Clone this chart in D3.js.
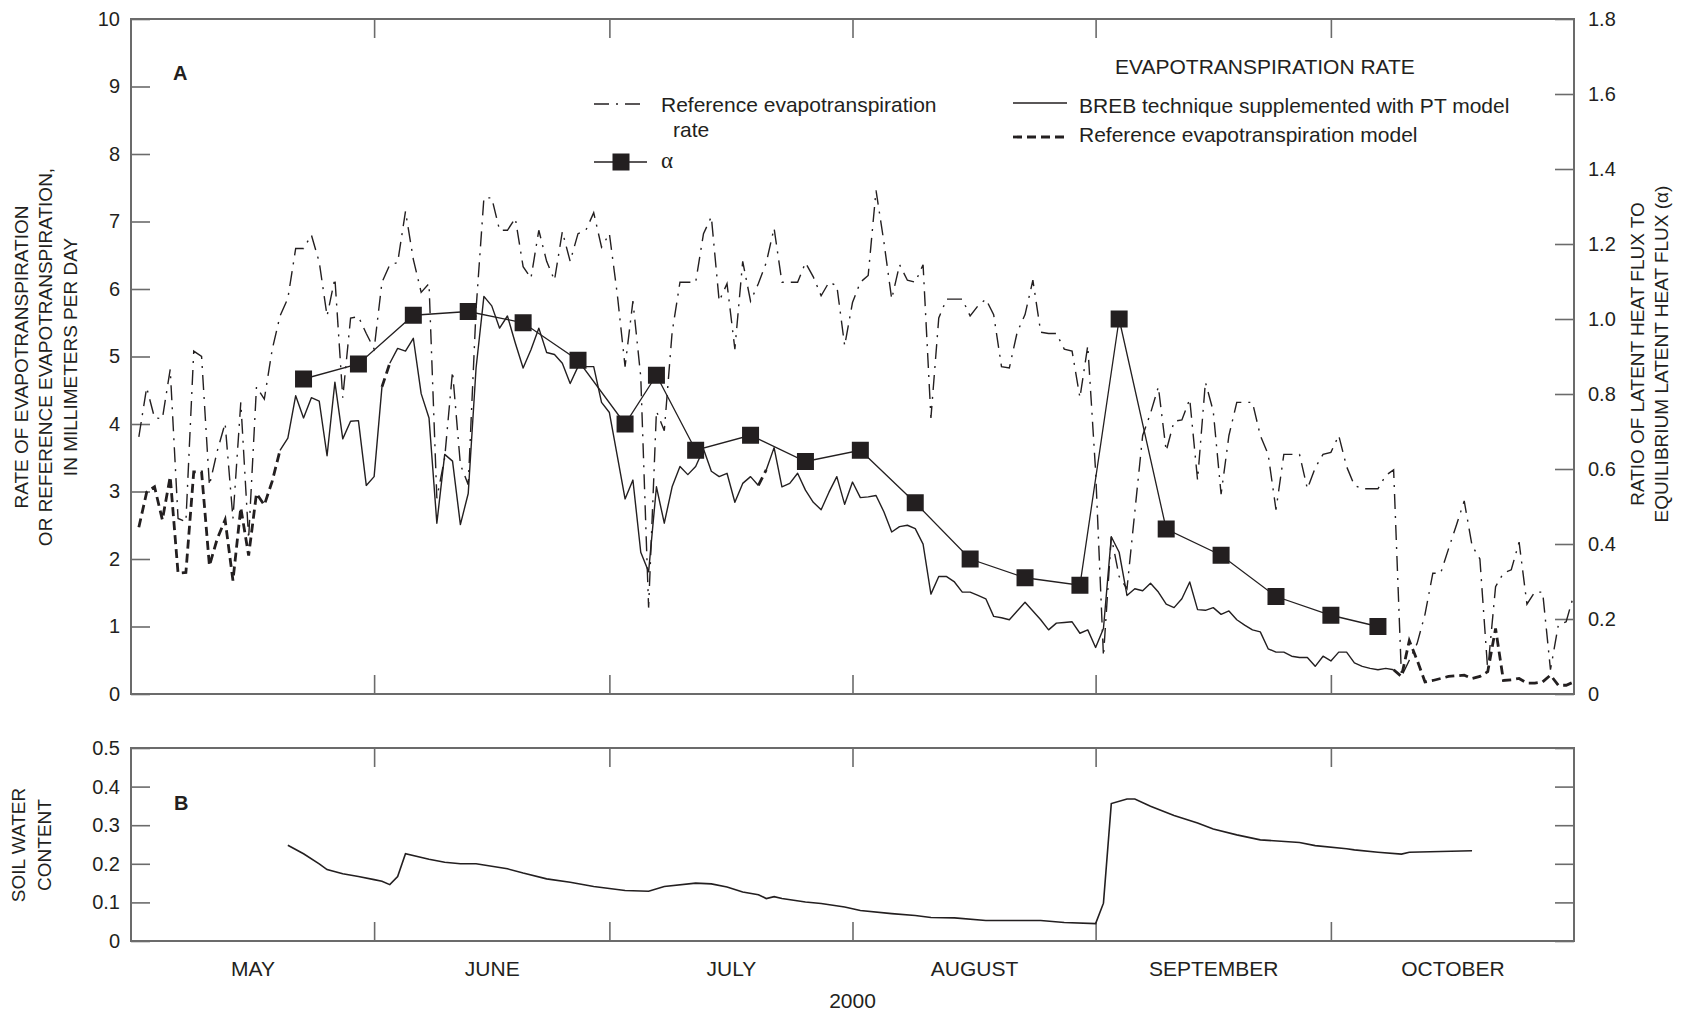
<!DOCTYPE html>
<html>
<head>
<meta charset="utf-8">
<script src="https://cdn.jsdelivr.net/npm/d3@7"></script>
<style>
  body { margin: 0; background: #fff; }
  svg { display: block; }
  text { font-family: "Liberation Sans", Arial, Helvetica, sans-serif; fill: #231f20; }
</style>
</head>
<body>
<svg id="chart" width="1681" height="1014"></svg>
<script>
// day 0 = May 1, 2000; daily values start on day 1
const monthStarts = [0, 31, 61, 92, 123, 153, 184]
const monthNames = ["MAY", "JUNE", "JULY", "AUGUST", "SEPTEMBER", "OCTOBER"]

const etTicks = [0, 1, 2, 3, 4, 5, 6, 7, 8, 9, 10]
const alphaTicks = [0, 0.2, 0.4, 0.6, 0.8, 1.0, 1.2, 1.4, 1.6, 1.8]
const soilTicks = [0, 0.1, 0.2, 0.3, 0.4, 0.5]

// reference evapotranspiration rate, mm/day (dash-dot)
const refEtRate = [
  3.81, 4.54, 4.09, 4.08, 4.81, 2.6, 2.55, 5.08, 5.0, 3.09,
  3.6, 4.01, 2.6, 4.32, 2.3, 4.55, 4.37, 5.1, 5.6, 5.86,
  6.6, 6.6, 6.8, 6.4, 5.6, 6.16, 4.39, 5.57, 5.59, 5.34,
  5.11, 6.1, 6.36, 6.39, 7.15, 6.44, 5.95, 6.08, 2.9, 3.5,
  4.78, 3.4, 3.1, 5.7, 7.35, 7.35, 6.87, 6.87, 7.05, 6.33,
  6.16, 6.87, 6.41, 6.13, 6.85, 6.41, 6.82, 6.87, 7.13, 6.62,
  6.82, 5.93, 4.85, 5.82, 4.7, 1.28, 4.19, 3.9, 5.36, 6.1,
  6.1, 6.1, 6.82, 7.07, 5.82, 6.08, 5.11, 6.41, 5.82, 6.08,
  6.39, 6.9, 6.1, 6.1, 6.1, 6.39, 6.18, 5.9, 6.1, 6.05,
  5.16, 5.8, 6.1, 6.2, 7.46, 6.7, 5.85, 6.36, 6.13, 6.1,
  6.36, 4.09, 5.57, 5.85, 5.85, 5.85, 5.6, 5.75, 5.85, 5.62,
  4.85, 4.83, 5.36, 5.62, 6.13, 5.36, 5.34, 5.34, 5.11, 5.08,
  4.39, 5.16, 3.3, 0.56, 2.33, 1.74, 1.56, 2.7, 3.83, 4.16,
  4.55, 3.6, 4.04, 4.06, 4.37, 3.17, 4.62, 4.19, 2.96, 3.83,
  4.32, 4.32, 4.32, 3.83, 3.55, 2.73, 3.55, 3.55, 3.55, 3.04,
  3.35, 3.55, 3.58, 3.83, 3.37, 3.09, 3.04, 3.04, 3.04, 3.24,
  3.32, 0.26, 0.5, 0.75, 1.18, 1.79, 1.79, 2.15, 2.5, 2.86,
  2.2, 2.0, 0.35, 1.59, 1.79, 1.84, 2.25, 1.33, 1.51, 1.51,
  0.36, 1.02, 1.07, 1.48
]

// evapotranspiration rate, mm/day (BREB + PT, or model where in modelSpans)
const etRate = [
  2.47, 2.99, 3.07, 2.58, 3.22, 1.79, 1.8, 3.29, 3.29, 1.9,
  2.3, 2.58, 1.68, 2.76, 2.05, 2.97, 2.8, 3.15, 3.61, 3.79,
  4.42, 4.09, 4.39, 4.34, 3.53, 4.62, 3.78, 4.04, 4.05, 3.09,
  3.22, 4.55, 4.9, 5.12, 5.08, 5.27, 4.45, 4.09, 2.53, 3.55,
  3.45, 2.51, 2.97, 4.83, 5.89, 5.75, 5.42, 5.6, 5.2, 4.83,
  5.1, 5.42, 5.06, 5.03, 4.9, 4.6, 4.85, 4.85, 4.85, 4.32,
  4.17, 3.53, 2.89, 3.17, 2.1, 1.81, 3.07, 2.53, 3.07, 3.37,
  3.25, 3.37, 3.63, 3.3, 3.22, 3.27, 2.84, 3.12, 3.22, 3.09,
  3.32, 3.65, 3.07, 3.12, 3.27, 3.02, 2.84, 2.73, 2.99, 3.22,
  2.81, 3.14, 2.91, 2.92, 2.94, 2.7, 2.4, 2.48, 2.5, 2.45,
  2.22, 1.48, 1.74, 1.74, 1.66, 1.51, 1.51, 1.46, 1.41, 1.15,
  1.13, 1.1, 1.23, 1.36, 1.23, 1.1, 0.95, 1.05, 1.06, 1.07,
  0.9, 0.95, 0.69, 0.97, 2.33, 2.1, 1.46, 1.56, 1.53, 1.64,
  1.51, 1.33, 1.28, 1.41, 1.66, 1.25, 1.24, 1.28, 1.18, 1.23,
  1.1, 1.02, 0.95, 0.92, 0.67, 0.62, 0.62, 0.56, 0.54, 0.54,
  0.41, 0.56, 0.49, 0.62, 0.62, 0.46, 0.41, 0.38, 0.36, 0.38,
  0.36, 0.26, 0.79, 0.5, 0.18, 0.2, 0.23, 0.26, 0.27, 0.28,
  0.23, 0.26, 0.33, 0.97, 0.2, 0.21, 0.23, 0.16, 0.16, 0.18,
  0.28, 0.13, 0.13, 0.18
]
const modelSpans = [[1, 19], [32, 33], [80, 81], [161, 184]]

const alphaDays = [22, 29, 36, 43, 50, 57, 63, 67, 72, 79, 86, 93, 100, 107, 114, 121, 126, 132, 139, 146, 153, 159]
const alphaValues = [0.84, 0.88, 1.01, 1.02, 0.99, 0.89, 0.72, 0.85, 0.65, 0.69, 0.62, 0.65, 0.51, 0.36, 0.31, 0.29, 1.0, 0.44, 0.37, 0.26, 0.21, 0.18]

const soilDays = [20, 22, 24, 25, 27, 29, 31, 32, 33, 34, 35, 38, 40, 42, 44, 48, 50, 53, 56, 59,
  63, 66, 68, 72, 74, 76, 78, 80, 81, 82, 83, 86, 88, 91, 93, 97, 100, 102, 105, 109,
  116, 119, 123, 124, 125, 127, 128, 130, 133, 136, 138, 141, 144, 149, 151, 155, 156, 159, 162, 163,
  167, 171]
const soilValues = [0.248, 0.226, 0.2, 0.185, 0.174, 0.167, 0.159, 0.155, 0.146, 0.167, 0.226, 0.212, 0.204, 0.2, 0.2, 0.187, 0.176, 0.161, 0.152, 0.141,
  0.131, 0.129, 0.141, 0.15, 0.148, 0.14, 0.127, 0.12, 0.11, 0.115, 0.11, 0.101, 0.097, 0.088, 0.079, 0.071, 0.066, 0.061, 0.06, 0.053,
  0.053, 0.048, 0.045, 0.098, 0.356, 0.368, 0.368, 0.349, 0.325, 0.306, 0.29, 0.275, 0.262, 0.255, 0.247, 0.239, 0.236, 0.23, 0.225, 0.23,
  0.232, 0.234]

const ink = "#231f20"
const frameColor = "#6b6b6b"

const svg = d3.select("#chart")
const left = 131, right = 1574
const topA = 19, bottomA = 694
const topB = 748, bottomB = 941
const tickLen = 19

const x = d3.scaleLinear().domain([0, 184]).range([left, right])
const yEt = d3.scaleLinear().domain([0, 10]).range([bottomA, topA])
const yAlpha = d3.scaleLinear().domain([0, 1.8]).range([bottomA, topA])
const ySoil = d3.scaleLinear().domain([0, 0.5]).range([bottomB, topB])

function styleAxis (g, size) {
    g.attr("font-size", size).attr("color", ink)
    g.select(".domain").remove()
    g.selectAll(".tick line").attr("stroke", frameColor).attr("stroke-width", 1.6)
}

// ---- panel frames and ticks
const monthInner = monthStarts.slice(1, -1)
;[[topA, bottomA], [topB, bottomB]].forEach(([t, b]) => {
    svg.append("g").attr("transform", `translate(0,${t})`)
        .call(d3.axisTop(x).tickValues(monthInner).tickSize(-tickLen).tickFormat(""))
        .call(g => styleAxis(g, 20))
    svg.append("g").attr("transform", `translate(0,${b})`)
        .call(d3.axisBottom(x).tickValues(monthInner).tickSize(-tickLen).tickFormat(""))
        .call(g => styleAxis(g, 20))
})

svg.append("g").attr("transform", `translate(${left},0)`)
    .call(d3.axisLeft(yEt).tickValues(etTicks).tickSize(-tickLen).tickPadding(11).tickFormat(d3.format("d")))
    .call(g => styleAxis(g, 20))

svg.append("g").attr("transform", `translate(${right},0)`)
    .call(d3.axisRight(yAlpha).tickValues(alphaTicks).tickSize(-tickLen).tickPadding(14)
        .tickFormat(d => d === 0 ? "0" : d3.format(".1f")(d)))
    .call(g => styleAxis(g, 20))

svg.append("g").attr("transform", `translate(${left},0)`)
    .call(d3.axisLeft(ySoil).tickValues(soilTicks).tickSize(-tickLen).tickPadding(11)
        .tickFormat(d => d === 0 ? "0" : d3.format(".1f")(d)))
    .call(g => styleAxis(g, 20))

svg.append("g").attr("transform", `translate(${right},0)`)
    .call(d3.axisRight(ySoil).tickValues(soilTicks).tickSize(-tickLen).tickFormat(""))
    .call(g => styleAxis(g, 20))

// month names under panel B
const monthMids = monthNames.map((m, i) => (monthStarts[i] + monthStarts[i + 1]) / 2)
svg.append("g").attr("transform", `translate(0,${bottomB})`)
    .call(d3.axisBottom(x).tickValues(monthMids).tickSize(0).tickPadding(20)
        .tickFormat((d, i) => monthNames[i]))
    .call(g => styleAxis(g, 21))

svg.append("text")
    .attr("x", x(92)).attr("y", 1008)
    .attr("text-anchor", "middle").attr("font-size", 21)
    .text("2000")

svg.append("rect").attr("x", left).attr("y", topA)
    .attr("width", right - left).attr("height", bottomA - topA)
    .attr("fill", "none").attr("stroke", frameColor).attr("stroke-width", 2)
svg.append("rect").attr("x", left).attr("y", topB)
    .attr("width", right - left).attr("height", bottomB - topB)
    .attr("fill", "none").attr("stroke", frameColor).attr("stroke-width", 2)

// ---- panel A data
const etLine = d3.line().x(d => x(d.day)).y(d => yEt(d.value))
const refPoints = refEtRate.map((v, i) => ({ day: i + 1, value: v }))
const etPoints = etRate.map((v, i) => ({ day: i + 1, value: v }))
const span = (a, b) => etPoints.filter(d => d.day >= a && d.day <= b)

svg.append("path").datum(refPoints)
    .attr("d", etLine)
    .attr("fill", "none").attr("stroke", ink).attr("stroke-width", 1.4)
    .attr("stroke-dasharray", "15,7,2,7")

for (let i = 0; i < modelSpans.length - 1; i++) {
    svg.append("path").datum(span(modelSpans[i][1], modelSpans[i + 1][0]))
        .attr("d", etLine)
        .attr("fill", "none").attr("stroke", ink).attr("stroke-width", 1.4)
        .attr("stroke-linejoin", "round")
}
modelSpans.forEach(([a, b]) => {
    svg.append("path").datum(span(a, b))
        .attr("d", etLine)
        .attr("fill", "none").attr("stroke", ink).attr("stroke-width", 2.8)
        .attr("stroke-dasharray", "9,5")
})

const alphaPoints = alphaDays.map((d, i) => ({ day: d, value: alphaValues[i] }))
const alphaLine = d3.line().x(d => x(d.day)).y(d => yAlpha(d.value))
svg.append("path").datum(alphaPoints)
    .attr("d", alphaLine)
    .attr("fill", "none").attr("stroke", ink).attr("stroke-width", 1.3)

const sq = 17
svg.selectAll(".alpha").data(alphaPoints).enter().append("rect")
    .attr("class", "alpha")
    .attr("x", d => x(d.day) - sq / 2)
    .attr("y", d => yAlpha(d.value) - sq / 2)
    .attr("width", sq).attr("height", sq)
    .attr("fill", ink)

// ---- panel B data
const soilPoints = soilDays.map((d, i) => ({ day: d, value: soilValues[i] }))
svg.append("path").datum(soilPoints)
    .attr("d", d3.line().x(d => x(d.day)).y(d => ySoil(d.value)))
    .attr("fill", "none").attr("stroke", ink).attr("stroke-width", 1.6)

// ---- panel letters
svg.append("text").attr("x", 173).attr("y", 80).attr("font-size", 20).attr("font-weight", "bold").text("A")
svg.append("text").attr("x", 174).attr("y", 810).attr("font-size", 20).attr("font-weight", "bold").text("B")

// ---- axis titles
function vTitle (lines, xs, cy) {
    lines.forEach((t, i) => {
        svg.append("text")
            .attr("transform", `translate(${xs[i]},${cy}) rotate(-90)`)
            .attr("text-anchor", "middle").attr("font-size", 19)
            .text(t)
    })
}
vTitle(["RATE OF EVAPOTRANSPIRATION", "OR REFERENCE EVAPOTRANSPIRATION,", "IN MILLIMETERS PER DAY"], [28, 52, 77], 357)
vTitle(["RATIO OF LATENT HEAT FLUX TO", "EQUILIBRIUM LATENT HEAT FLUX (α)"], [1644, 1668], 354)
vTitle(["SOIL WATER", "CONTENT"], [25, 51], 845)

// ---- legend
const legend = svg.append("g").attr("font-size", 21)
legend.append("line").attr("x1", 594).attr("x2", 646).attr("y1", 104).attr("y2", 104)
    .attr("stroke", ink).attr("stroke-width", 1.4).attr("stroke-dasharray", "15,7,2,7")
legend.append("text").attr("x", 661).attr("y", 112).text("Reference evapotranspiration")
legend.append("text").attr("x", 673).attr("y", 137).text("rate")

legend.append("line").attr("x1", 594).attr("x2", 647).attr("y1", 162).attr("y2", 162)
    .attr("stroke", ink).attr("stroke-width", 1.3)
legend.append("rect").attr("x", 621 - sq / 2).attr("y", 162 - sq / 2).attr("width", sq).attr("height", sq).attr("fill", ink)
legend.append("text").attr("x", 661).attr("y", 168).style("font-family", "'Liberation Serif', serif").attr("font-size", 23).text("α")

legend.append("text").attr("x", 1115).attr("y", 74).text("EVAPOTRANSPIRATION RATE")
legend.append("line").attr("x1", 1013).attr("x2", 1067).attr("y1", 103).attr("y2", 103)
    .attr("stroke", ink).attr("stroke-width", 1.4)
legend.append("text").attr("x", 1079).attr("y", 113).text("BREB technique supplemented with PT model")
legend.append("line").attr("x1", 1013).attr("x2", 1067).attr("y1", 137).attr("y2", 137)
    .attr("stroke", ink).attr("stroke-width", 2.8).attr("stroke-dasharray", "9,5")
legend.append("text").attr("x", 1079).attr("y", 142).text("Reference evapotranspiration model")
</script>
</body>
</html>
